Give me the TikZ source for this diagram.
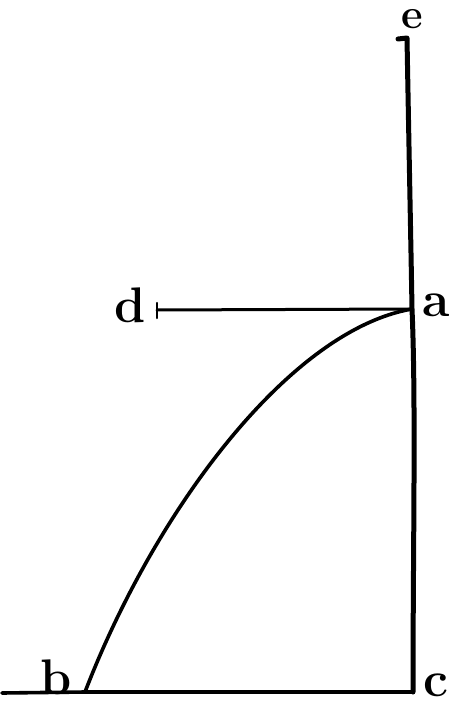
\documentclass[tikz,border=0pt]{standalone}
\usetikzlibrary{calc}
\tikzset{
  letter/.style={font=\fontsize{50}{50}\selectfont\bfseries, inner sep=0pt},
  stroke/.style={line width=3.6pt, line cap=round, line join=round}
}
\begin{document}
\begin{tikzpicture}[x=1pt,y=-1pt]
\useasboundingbox (0,0) rectangle (456,706);

% Points
\coordinate (top) at (407,38);
\coordinate (hook) at (398,39);
\coordinate (pa) at (412,309);
\coordinate (pd) at (157,310);
\coordinate (pb) at (85,692);
\coordinate (pc) at (413,692);
\coordinate (left) at (2,693);

% Labels
\node[letter, font=\fontsize{42}{42}\selectfont\bfseries] (e) at (412,19) {e};
\node[letter] (d) at (130,305) {d};
\node[letter] (a) at (436,305) {a};
\node[letter] (b) at (56,677) {b};
\node[letter] (c) at (436,685) {c};

% Upright line
\draw[stroke, line width=5pt] (hook) -- (top) .. controls (409,150) and (411,250) .. (pa)
  .. controls (416,400) and (413,550) .. (pc);

% Base line
\draw[stroke] (left) -- (pb) -- (pc);

% Line from d to a
\draw[stroke, line width=3pt] (pd) -- (pa);
\draw[stroke, line width=2.5pt] ($(pd)+(0,-7)$) -- ($(pd)+(0,8)$);

% Curve from b to a
\draw[stroke] (pb) .. controls (155,510) and (290,330) .. (pa);
\end{tikzpicture}
\end{document}
